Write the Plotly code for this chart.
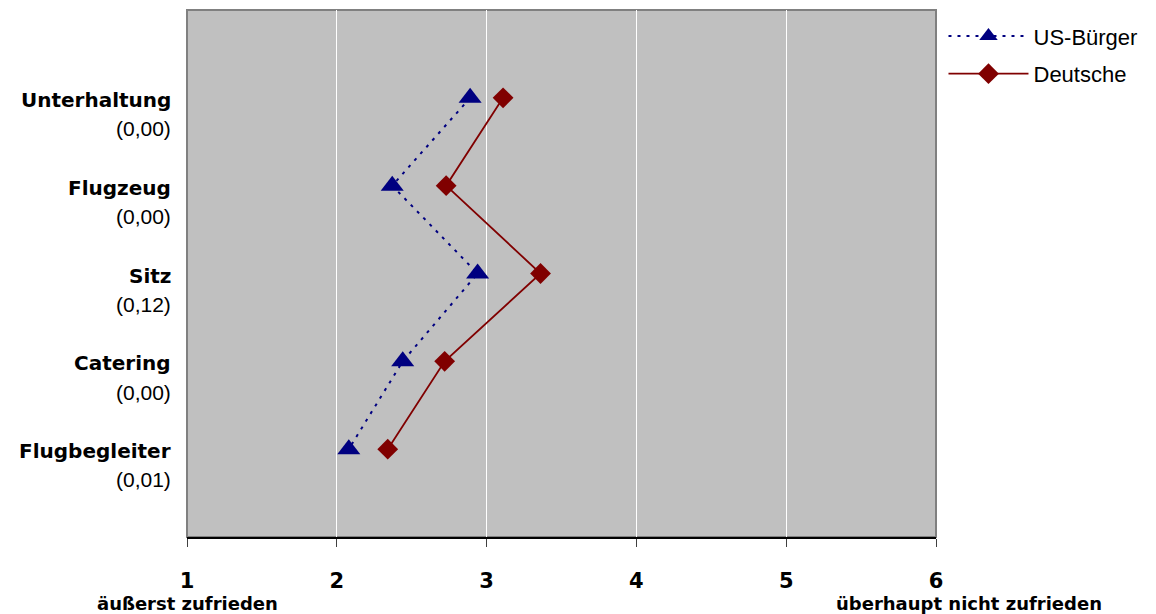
import plotly.graph_objects as go

# Satisfaction ratings (1 = äußerst zufrieden, 6 = überhaupt nicht zufrieden)
categories = ["Unterhaltung", "Flugzeug", "Sitz", "Catering", "Flugbegleiter"]
p_values = ["(0,00)", "(0,00)", "(0,12)", "(0,00)", "(0,01)"]
us_values = [2.89, 2.37, 2.94, 2.44, 2.08]
de_values = [3.11, 2.73, 3.36, 2.72, 2.34]
x_ticks = [1, 2, 3, 4, 5, 6]

positions = list(range(1, len(categories) + 1))

fig = go.Figure()
fig.add_trace(go.Scatter(
    x=us_values, y=positions, name="US-Bürger", mode="lines+markers",
    legendgroup="us",
    line=dict(color="#000080", width=2, dash="3px,6px"),
    marker=dict(symbol="triangle-up", size=20, color="#000080"),
))
fig.add_trace(go.Scatter(
    x=de_values, y=positions, name="Deutsche", mode="lines+markers",
    legendgroup="de",
    line=dict(color="#800000", width=1.8),
    marker=dict(symbol="diamond", size=16, color="#800000"),
))

# plot frame
fig.add_shape(type="rect", xref="paper", yref="paper", x0=0, x1=1, y0=0, y1=1,
              line=dict(color="#808080", width=2), layer="below")

# category labels with significance values
for pos, cat, p in zip(positions, categories, p_values):
    fig.add_annotation(x=0, xref="paper", y=pos, yref="y", text=f"<b>{cat}</b>",
                       xanchor="right", yanchor="middle", xshift=-14, yshift=-2,
                       showarrow=False,
                       font=dict(family="DejaVu Sans", size=20, color="black"))
    fig.add_annotation(x=0, xref="paper", y=pos + 0.35, yref="y", text=p,
                       xanchor="right", yanchor="middle", xshift=-14, showarrow=False,
                       font=dict(family="Liberation Sans, Arial", size=21, color="black"))

fig.add_annotation(x=1, xref="x", y=0, yref="paper", yshift=-66, text="<b>äußerst zufrieden</b>",
                   xanchor="center", yanchor="middle", showarrow=False,
                   font=dict(family="DejaVu Sans", size=18, color="black"))
fig.add_annotation(x=6, xref="x", y=0, yref="paper", yshift=-66, xshift=33,
                   text="<b>überhaupt nicht zufrieden</b>",
                   xanchor="center", yanchor="middle", showarrow=False,
                   font=dict(family="DejaVu Sans", size=18, color="black"))

fig.update_layout(
    width=1156, height=614,
    margin=dict(l=187, r=220, t=10, b=77),
    paper_bgcolor="white", plot_bgcolor="#C0C0C0",
    font=dict(family="Liberation Sans, Arial", color="black"),
    xaxis=dict(range=[1, 6], tickvals=x_ticks, ticktext=[f"<b>{v}</b>" for v in x_ticks],
               showgrid=True, gridcolor="#FFFFFF", gridwidth=1,
               showline=True, linecolor="black", linewidth=2,
               ticks="outside", ticklen=8, tickcolor="#404040", tickwidth=1,
               tickfont=dict(size=21, family="DejaVu Sans"), ticklabelstandoff=16,
               zeroline=False, fixedrange=True),
    yaxis=dict(range=[6, 0], showgrid=False, showticklabels=False, zeroline=False,
               showline=False, fixedrange=True),
    legend=dict(x=1.01, y=0.99, xanchor="left", yanchor="top", bgcolor="rgba(0,0,0,0)",
                font=dict(size=22, family="Liberation Sans, Arial"),
                itemwidth=80, tracegroupgap=6, traceorder="grouped"),
    showlegend=True,
)

fig.write_html("out.html")
